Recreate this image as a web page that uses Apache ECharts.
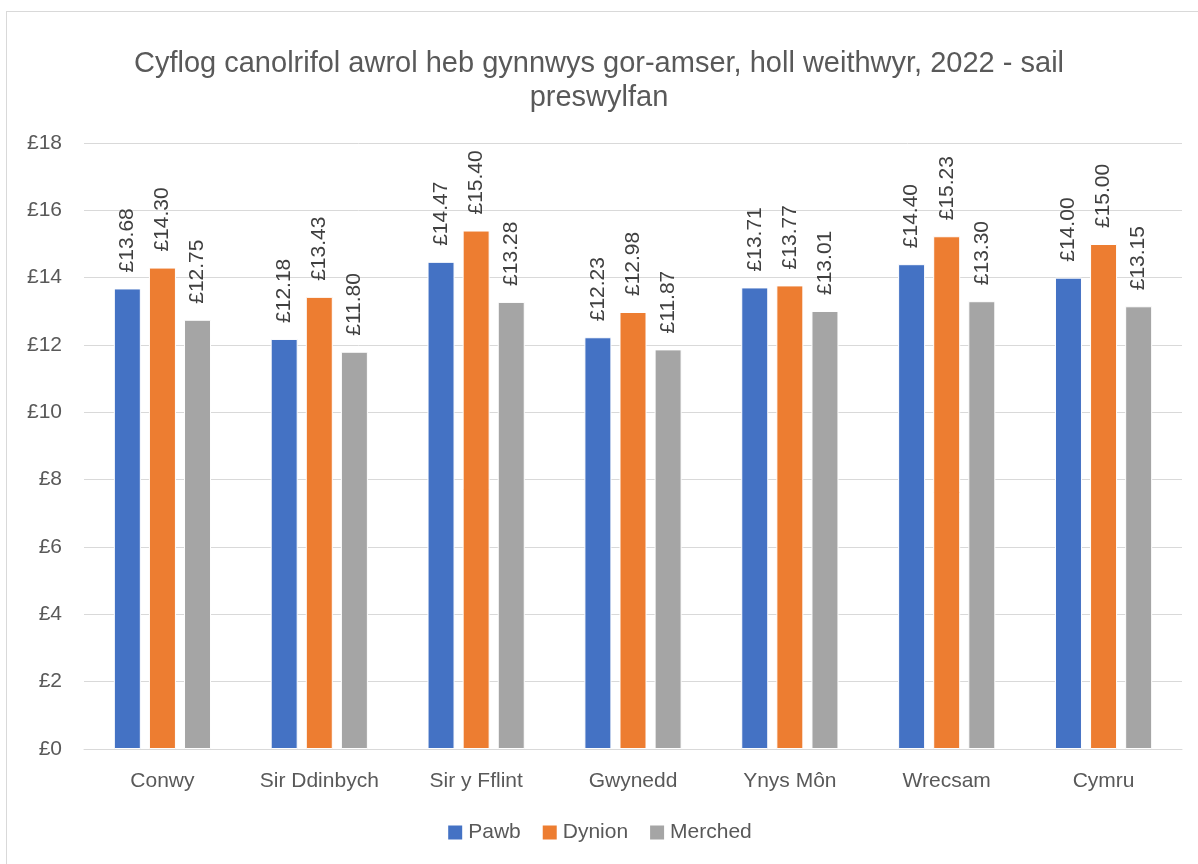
<!DOCTYPE html>
<html>
<head>
<meta charset="utf-8">
<script src="https://cdn.jsdelivr.net/npm/echarts@6/dist/echarts.min.js"></script>
<style>
  html, body { margin: 0; padding: 0; background: #fff; overflow: hidden; }
  .frame {
    position: absolute; left: 6px; top: 11px; width: 1300px; height: 1000px;
    border: 1px solid #d9d9d9;
  }
  #chart { position: absolute; left: 0; top: 0; width: 1198px; height: 864px; }
</style>
</head>
<body>
<div class="frame"></div>
<div id="chart"></div>
<script>
const titleText = 'Cyflog canolrifol awrol heb gynnwys gor-amser, holl weithwyr, 2022 - sail\npreswylfan'
const categories = ['Conwy', 'Sir Ddinbych', 'Sir y Fflint', 'Gwynedd', 'Ynys Môn', 'Wrecsam', 'Cymru']
const pawb = [13.68, 12.18, 14.47, 12.23, 13.71, 14.40, 14.00]
const dynion = [14.30, 13.43, 15.40, 12.98, 13.77, 15.23, 15.00]
const merched = [12.75, 11.80, 13.28, 11.87, 13.01, 13.30, 13.15]
const seriesDefs = [
  { name: 'Pawb', data: pawb, color: '#4472C4' },
  { name: 'Dynion', data: dynion, color: '#ED7D31' },
  { name: 'Merched', data: merched, color: '#A5A5A5' }
]

const font = 'Liberation Sans'
const textColor = '#595959'

const chart = echarts.init(document.getElementById('chart'))
chart.setOption({
  animation: false,
  backgroundColor: 'transparent',
  title: {
    text: titleText,
    left: 'center',
    top: 42,
    textStyle: { fontFamily: font, fontSize: 29, fontWeight: 'normal', color: textColor, lineHeight: 34 }
  },
  legend: {
    bottom: 16,
    left: 'center',
    itemWidth: 16,
    itemHeight: 16,
    itemGap: 20,
    icon: 'rect',
    textStyle: { fontFamily: font, fontSize: 21, color: textColor }
  },
  grid: { left: 84, right: 16, top: 143, bottom: 115, containLabel: false },
  xAxis: {
    type: 'category',
    data: categories,
    axisLine: { lineStyle: { color: '#d9d9d9', width: 1 } },
    axisTick: { show: false },
    axisLabel: { fontFamily: font, fontSize: 21, color: textColor, margin: 22 }
  },
  yAxis: {
    type: 'value',
    min: 0,
    max: 18,
    interval: 2,
    axisLine: { show: false },
    axisTick: { show: false },
    splitLine: { lineStyle: { color: '#d9d9d9', width: 1 } },
    axisLabel: { fontFamily: font, fontSize: 21, color: textColor, margin: 22, formatter: (v) => '£' + v }
  },
  series: seriesDefs.map((s) => ({
    name: s.name,
    type: 'bar',
    data: s.data,
    barWidth: 27,
    barGap: '30%',
    itemStyle: { color: s.color, borderColor: '#fff', borderWidth: 1 },
    label: {
      show: true,
      position: 'top',
      rotate: 90,
      align: 'left',
      verticalAlign: 'middle',
      distance: 16,
      fontFamily: font,
      fontSize: 21,
      color: '#404040',
      formatter: (p) => '£' + p.value.toFixed(2)
    }
  }))
})
</script>
</body>
</html>
